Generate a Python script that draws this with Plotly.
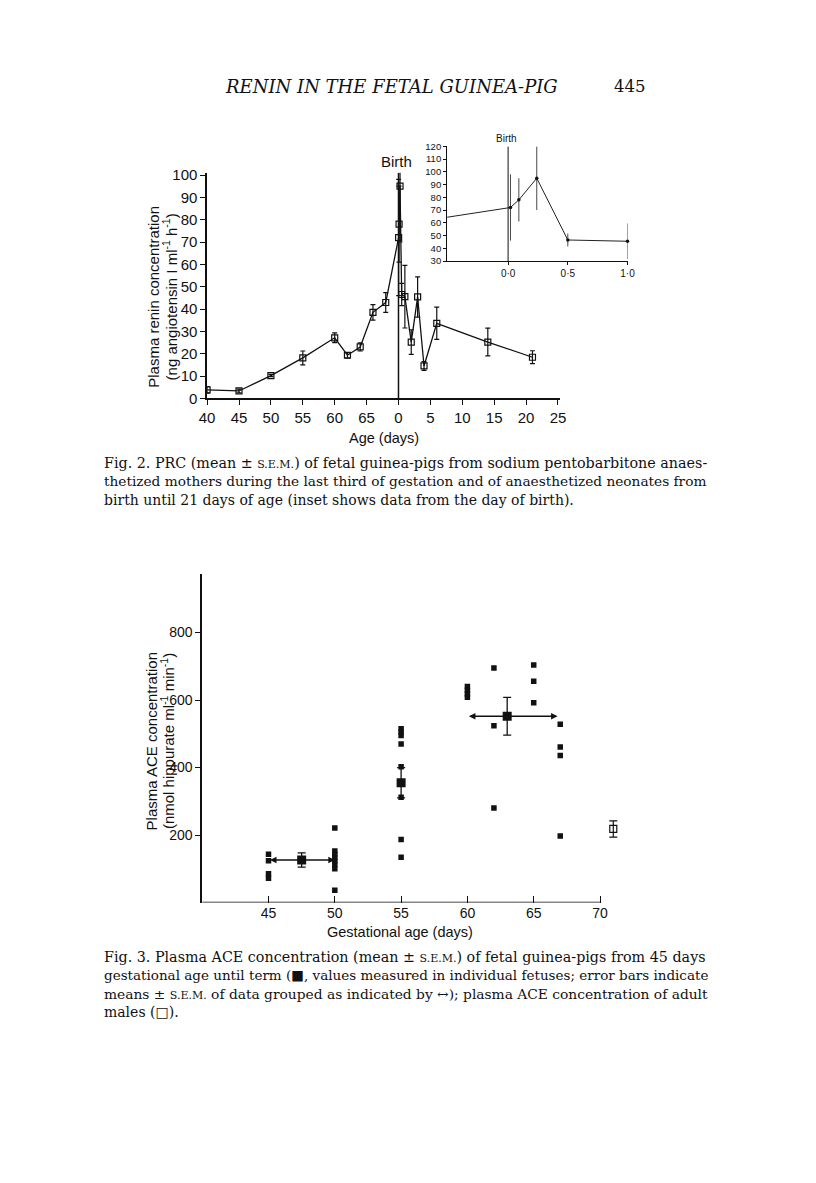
import plotly.graph_objects as go

# page is 816x1183; the html body adds an 8px margin, so the figure is 800x1167
PAGE_OFF = 8
W, H = 800, 1167

# ---------------- Fig. 2 data (plasma renin concentration) ----------------
fetal_age = [40, 45, 50, 55, 60, 62, 64, 66, 68]            # gestational days
fetal_prc = [3.8, 3.3, 10.2, 18.1, 27.1, 19.3, 23.0, 38.5, 42.9]
fetal_sem = [1.5, 0.8, 0.5, 3.1, 2.2, 1.2, 1.8, 3.5, 4.4]

neo_day = [0.02, 0.09, 0.24, 0.5, 1, 2, 3, 4, 6, 14, 21]    # postnatal days
neo_prc = [72, 78, 95, 46.5, 45.5, 25.2, 45.4, 14.5, 33.6, 25.2, 18.4]
neo_sem = [26, 17, 25, 5, 14, 5.5, 9, 2, 7.2, 6.2, 2.9]

BIRTH_POS = 70          # axis position used for birth on the broken age axis
main_ticks_fetal = [40, 45, 50, 55, 60, 65]
main_ticks_neo = [0, 5, 10, 15, 20, 25]
inset_ticks = [0.0, 0.5, 1.0]
inset_ticktext = ["0·0", "0·5", "1·0"]

# ---------------- Fig. 3 data (plasma ACE concentration) ----------------
ind_age = [45, 45, 45, 45,
           50, 50, 50, 50, 50, 50, 50, 50,
           55, 55, 55, 55, 55, 55, 55, 55,
           60, 60, 60, 60,
           62, 62, 62,
           65, 65, 65,
           67, 67, 67, 67]
ind_ace = [143, 124, 85, 72,
           221, 153, 143, 133, 123, 113, 100, 36,
           515, 505, 495, 470, 402, 312, 187, 134,
           640, 629, 618, 608,
           695, 524, 280,
           704, 656, 592,
           528, 461, 436, 197]

grp_x = [47.5, 55, 63]
grp_mean = [126, 355, 552]
grp_sem = [21, 45, 56]
grp_start = [45, None, 60]
grp_end = [50, None, 66.8]

ADULT_POS = 71
adult_mean = [218]
adult_sem = [24]

fig3_ticks = [45, 50, 55, 60, 65, 70]

# ---------------- geometry helpers (page pixel -> paper) ----------------
def px(x):
    return (x - PAGE_OFF) / W

def py(y):
    return 1 - (y - PAGE_OFF) / H

SANS = "Liberation Sans, Arial, sans-serif"
SERIF = "DejaVu Serif, serif"

fig = go.Figure()

# main Fig.2 series
main_x = fetal_age + [BIRTH_POS + d for d in neo_day]
main_y = fetal_prc + neo_prc
main_e = fetal_sem + neo_sem
fig.add_trace(go.Scatter(
    x=main_x, y=main_y, mode="lines+markers",
    line=dict(color="#111", width=1.3),
    marker=dict(symbol="square-open", size=6, color="#111", line=dict(width=1.2)),
    error_y=dict(type="data", array=main_e, color="#111", thickness=1.2, width=2.5),
    xaxis="x", yaxis="y", showlegend=False, cliponaxis=True))

# inset
inset_x = [a - BIRTH_POS for a in fetal_age[-1:]] + neo_day
inset_y = fetal_prc[-1:] + neo_prc
inset_e = fetal_sem[-1:] + neo_sem
fig.add_trace(go.Scatter(
    x=inset_x, y=inset_y, mode="lines+markers",
    line=dict(color="#222", width=1),
    marker=dict(symbol="circle", size=3.5, color="#111"),
    error_y=dict(type="data", array=inset_e, color="#333", thickness=0.9, width=0),
    xaxis="x2", yaxis="y2", showlegend=False, cliponaxis=False))

# Fig.3 individual values
fig.add_trace(go.Scatter(
    x=ind_age, y=ind_ace, mode="markers",
    marker=dict(symbol="square", size=5.5, color="#111"),
    xaxis="x3", yaxis="y3", showlegend=False))
# group means
fig.add_trace(go.Scatter(
    x=grp_x, y=grp_mean, mode="markers",
    marker=dict(symbol="square", size=9, color="#111"),
    error_y=dict(type="data", array=grp_sem, color="#111", thickness=1.3, width=4),
    xaxis="x3", yaxis="y3", showlegend=False))
# adult males
fig.add_trace(go.Scatter(
    x=[ADULT_POS], y=adult_mean, mode="markers",
    marker=dict(symbol="square-open", size=7, color="#111", line=dict(width=1.2)),
    error_y=dict(type="data", array=adult_sem, color="#111", thickness=1.2, width=4),
    xaxis="x3", yaxis="y3", showlegend=False))

axis_common = dict(showgrid=False, zeroline=False, linecolor="#111",
                   tickcolor="#111", color="#111")

fig.update_layout(
    width=W, height=H, margin=dict(l=0, r=0, t=0, b=0),
    paper_bgcolor="white", plot_bgcolor="rgba(0,0,0,0)",
    xaxis=dict(domain=[px(203), px(563)], range=[40, 95.3], anchor="y",
               tickvals=main_ticks_fetal + [BIRTH_POS + d for d in main_ticks_neo],
               ticktext=[str(v) for v in main_ticks_fetal + main_ticks_neo],
               ticks="outside", ticklen=5, tickwidth=1.2,
               showline=True, linewidth=1.5,
               tickfont=dict(family=SANS, size=15, color="#111"), **axis_common),
    yaxis=dict(domain=[py(397), py(168.7)], range=[0, 101], anchor="x",
               tickvals=list(range(0, 101, 10)),
               ticks="outside", ticklen=5, tickwidth=1.2,
               showline=True, linewidth=1.5,
               tickfont=dict(family=SANS, size=15, color="#111"), **axis_common),
    xaxis2=dict(domain=[px(448), px(632)], range=[-0.51, 1.0], anchor="y2",
                tickvals=inset_ticks, ticktext=inset_ticktext,
                ticks="outside", ticklen=3, tickwidth=1,
                showline=True, linewidth=1.2,
                tickfont=dict(family=SANS, size=10, color="#111"), **axis_common),
    yaxis2=dict(domain=[py(258), py(142)], range=[30, 120], anchor="x2",
                tickvals=list(range(30, 121, 10)),
                ticks="outside", ticklen=3, tickwidth=1,
                showline=True, linewidth=1.2,
                tickfont=dict(family=SANS, size=9.5, color="#111"), **axis_common),
    xaxis3=dict(domain=[px(198), px(631)], range=[40, 72], anchor="y3",
                tickvals=fig3_ticks, ticktext=[str(v) for v in fig3_ticks],
                ticks="inside", ticklen=7, tickwidth=1.2, showline=False,
                tickfont=dict(family=SANS, size=14, color="#111"), **axis_common),
    yaxis3=dict(domain=[py(907.3), py(575)], range=[0, 973], anchor="x3",
                tickvals=[200, 400, 600, 800],
                ticks="outside", ticklen=5, tickwidth=1.2,
                showline=True, linewidth=1.5,
                tickfont=dict(family=SANS, size=14, color="#111"), **axis_common),
)

shapes = []
# birth lines
shapes.append(dict(type="line", xref="x", yref="y", x0=BIRTH_POS, x1=BIRTH_POS,
                   y0=0, y1=101, line=dict(color="#111", width=1.5)))
shapes.append(dict(type="line", xref="x2", yref="y2", x0=0, x1=0,
                   y0=30, y1=120, line=dict(color="#111", width=1)))
# Fig.3 x axis line (ends at 70)
shapes.append(dict(type="line", xref="x3", yref="y3", x0=40, x1=fig3_ticks[-1],
                   y0=0, y1=0, line=dict(color="#111", width=1.5)))
fig.update_layout(shapes=shapes)

ann = []
def text(x, y, s, size, family=SANS, xanchor="center", angle=0, yanchor="middle"):
    ann.append(dict(x=px(x), y=py(y), xref="paper", yref="paper", text=s,
                    showarrow=False, xanchor=xanchor, yanchor=yanchor,
                    textangle=angle, borderpad=0,
                    font=dict(family=family, size=size, color="#111")))

# header
text(391, 81, "<i>RENIN IN THE FETAL GUINEA-PIG</i>", 18, SERIF)
text(635, 81, "445", 16.5, SERIF)

# Fig.2 labels
text(396, 157, "Birth", 15)
text(509, 134, "Birth", 10)
text(148, 294, "Plasma renin concentration", 15, angle=-90)
text(165, 294, "(ng angiotensin I ml<sup>-1</sup> h<sup>-1</sup>)", 15, angle=-90)
text(383, 437, "Age (days)", 14.5)

SEM = "<span style='font-size:11px'>S.E.M.</span>"
cap2 = [
    f"Fig. 2. PRC (mean ± {SEM}) of fetal guinea-pigs from sodium pentobarbitone anaes-",
    "thetized mothers during the last third of gestation and of anaesthetized neonates from",
    "birth until 21 days of age (inset shows data from the day of birth).",
]
cap2_size = [14.3, 13.7, 14.0]          # per-line size mimics the justified setting
for i, line in enumerate(cap2):
    text(97, 462 + 19 * i, line, cap2_size[i], SERIF, xanchor="left")

# Fig.3 labels
text(146, 744, "Plasma ACE concentration", 15, angle=-90)
text(162, 744, "(nmol hippurate ml<sup>-1</sup> min<sup>-1</sup>)", 15, angle=-90)
text(400, 937, "Gestational age (days)", 14.5)

cap3 = [
    f"Fig. 3. Plasma ACE concentration (mean ± {SEM}) of fetal guinea-pigs from 45 days",
    "gestational age until term (■, values measured in individual fetuses; error bars indicate",
    f"means ± {SEM} of data grouped as indicated by ↔); plasma ACE concentration of adult",
    "males (□).",
]
cap3_size = [14.3, 13.5, 13.8, 14.0]
for i, line in enumerate(cap3):
    text(97, 962 + 18.7 * i, line, cap3_size[i], SERIF, xanchor="left")

# group arrows in Fig.3
for s, e, m in zip(grp_start, grp_end, grp_mean):
    if s is None:
        continue
    ann.append(dict(x=e, y=m, ax=s, ay=m, xref="x3", yref="y3", axref="x3", ayref="y3",
                    text="", showarrow=True, arrowhead=2, arrowside="end+start",
                    arrowsize=1, arrowwidth=1.3, arrowcolor="#111",
                    standoff=0, startstandoff=0))

fig.update_layout(annotations=ann)
fig.write_html("out.html")
